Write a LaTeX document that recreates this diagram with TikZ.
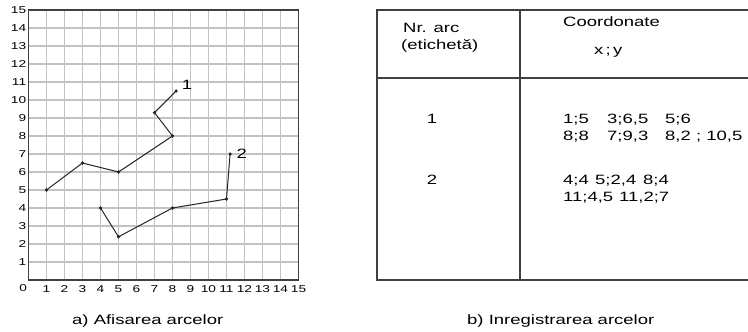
\documentclass[tikz,border=0pt]{standalone}
\usepackage{fontspec}
\setmainfont[FakeStretch=1.37]{Liberation Sans}
\usepackage{tikz}

\begin{document}
\begin{tikzpicture}[x=1pt, y=1pt, >=stealth,
        gridline/.style={black!24, line width=1.1pt},
        frame/.style={black!75, line width=1.6pt},
        arcline/.style={black!85, line width=1pt},
        ticklbl/.style={font=\fontsize{10}{10}\selectfont, inner sep=0pt},
        celltext/.style={font=\fontsize{13.5}{13.5}\selectfont, inner sep=0pt, anchor=base west}]
        \useasboundingbox (0,0) rectangle (748,332);
        \clip (0,0) rectangle (748,332);
        \begin{scope}[shift={(28.5pt,52pt)}, x=18pt, y=18pt]
            \foreach \k in {1,...,14} {
                \draw[gridline] (\k,0) -- (\k,15);
                \draw[gridline] (0,\k) -- (15,\k);
            }
            \draw[frame] (0,0) rectangle (15,15);
            \foreach \k in {1,...,15} {
                \node[ticklbl, anchor=east] (ylbl\k) at (-0.12,\k) {\k};
                \node[ticklbl] (xlbl\k) at (\k,-0.5) {\k};
            }
            \node[ticklbl] (zero) at (-0.3,-0.45) {0};
            \path (1,5) coordinate (a1) (3,6.5) coordinate (a2) (5,6) coordinate (a3)
                (8,8) coordinate (a4) (7,9.3) coordinate (a5) (8.2,10.5) coordinate (a6);
            \path (4,4) coordinate (b1) (5,2.4) coordinate (b2) (8,4) coordinate (b3)
                (11,4.5) coordinate (b4) (11.2,7) coordinate (b5);
            \draw[arcline] (a1) -- (a2) -- (a3) -- (a4) -- (a5) -- (a6);
            \draw[arcline] (b1) -- (b2) -- (b3) -- (b4) -- (b5);
            \foreach \p in {a1,a2,a3,a4,a5,a6,b1,b2,b3,b4,b5}
                \fill[black!85] (\p) circle (1.8pt);
            \node[celltext, anchor=center] (lbl1) at (8.8,10.85) {1};
            \node[celltext, anchor=center] (lbl2) at (11.85,7.0) {2};
        \end{scope}
        \draw[frame] (377,52) rectangle (760,322);
        \draw[frame] (520,52) -- (520,322);
        \draw[frame] (377,254) -- (760,254);
        \node[celltext] (hnr) at (403,299) {Nr. arc};
        \node[celltext] (heti) at (401,282) {(etichetă)};
        \node[celltext] (hcoord) at (563,305) {Coordonate};
        \node[celltext] (hxy) at (594,277) {x\,;\,y};
        \node[celltext, anchor=base] (nr1) at (432,208) {1};
        \node[celltext, anchor=base] (nr2) at (432,147) {2};
        \foreach \px/\py/\txt [count=\i] in {563/208/{1;5}, 607/208/{3;6,5}, 665/208/{5;6},
                563/191/{8;8}, 607/191/{7;9,3}, 665/191/{8,2 ; 10,5},
                563/147/{4;4}, 595/147/{5;2,4}, 643/147/{8;4},
                563/130/{11;4,5}, 619/130/{11,2;7}}
            \node[celltext] (pair\i) at (\px,\py) {\txt};
        \node[celltext] (capa) at (72,7) {a) Afisarea arcelor};
        \node[celltext] (capb) at (467,7) {b) Inregistrarea arcelor};
    \end{tikzpicture}
\end{document}
